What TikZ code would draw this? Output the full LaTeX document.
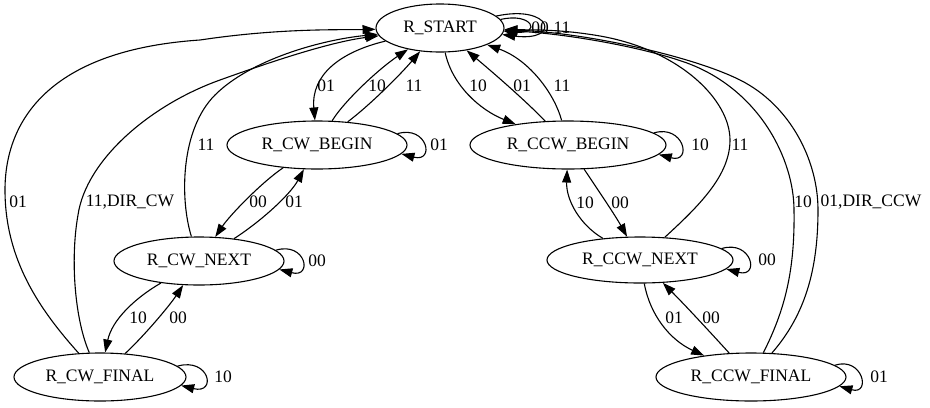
\documentclass[tikz,border=0pt]{standalone}
\usepackage{fontspec}
\setmainfont{Liberation Serif}
\usetikzlibrary{shapes.geometric,arrows.meta}
\begin{document}
\begin{tikzpicture}[x=1bp,y=-1bp,
  state/.style={draw, ellipse, line width=1.1bp, inner sep=0pt, minimum height=48bp, font=\fontsize{17.5bp}{20bp}\selectfont},
  edge/.style={draw, line width=1.1bp, -{Triangle[length=13bp,width=9bp]}},
  lbl/.style={inner sep=0pt, font=\fontsize{17.5bp}{20bp}\selectfont}]
\useasboundingbox (0,0) rectangle (930,407);

% states
\node[state, minimum width=128bp] (S) at (440,28) {R\_START};
\node[state, minimum width=180bp] (CWB) at (317,145) {R\_CW\_BEGIN};
\node[state, minimum width=196bp] (CCWB) at (568,145) {R\_CCW\_BEGIN};
\node[state, minimum width=170bp] (CWN) at (199,261) {R\_CW\_NEXT};
\node[state, minimum width=186bp, minimum height=46bp] (CCWN) at (640,260) {R\_CCW\_NEXT};
\node[state, minimum width=172bp] (CWF) at (100,377) {R\_CW\_FINAL};
\node[state, minimum width=190bp] (CCWF) at (751,377) {R\_CCW\_FINAL};

% R_START <-> R_CW_BEGIN
\draw[edge] (S) .. controls (340,52) and (311,75) .. (CWB);
\node[lbl] (l1) at (326,86) {01};
\draw[edge] (CWB) .. controls (345,100) and (380,68) .. (S);
\node[lbl] (l2) at (377,86) {10};
\draw[edge] (CWB) .. controls (370,105) and (400,75) .. (S);
\node[lbl] (l3) at (414,86) {11};

% R_START <-> R_CCW_BEGIN
\draw[edge] (S) .. controls (452,85) and (480,110) .. (CCWB);
\node[lbl] (l4) at (478,86) {10};
\draw[edge] (CCWB) .. controls (525,100) and (490,70) .. (S);
\node[lbl] (l5) at (522,86) {01};
\draw[edge] (CCWB) .. controls (555,95) and (530,60) .. (S);
\node[lbl] (l6) at (562,86) {11};

% R_START self loops
\draw[edge] (S.8) .. controls (532,12) and (542,34) .. (S.-3);
\node[lbl] (l7) at (540,28) {00};
\draw[edge] (S.12) .. controls (552,4) and (562,42) .. (S.-6);
\node[lbl] (l8) at (562,28) {11};

% self loops
\draw[edge] (CWB.8) .. controls +(30,-9) and +(34,9) .. (CWB.-6);
\node[lbl] (l9) at (439,145) {01};
\draw[edge] (CCWB.8) .. controls +(30,-9) and +(34,9) .. (CCWB.-6);
\node[lbl] (l10) at (700,145) {10};
\draw[edge] (CWN.8) .. controls +(30,-9) and +(34,9) .. (CWN.-6);
\node[lbl] (l11) at (317,261) {00};
\draw[edge] (CCWN.8) .. controls +(30,-9) and +(34,9) .. (CCWN.-6);
\node[lbl] (l12) at (767,260) {00};
\draw[edge] (CWF.8) .. controls +(32,-9) and +(36,9) .. (CWF.-6);
\node[lbl] (l13) at (223,377) {10};
\draw[edge] (CCWF.8) .. controls +(28,-9) and +(32,9) .. (CCWF.-6);
\node[lbl] (l14) at (879,377) {01};

% CW chain
\draw[edge] (CWB) .. controls (262,182) and (230,215) .. (CWN);
\node[lbl] (l15) at (258,202) {00};
\draw[edge] (CWN) .. controls (260,222) and (290,195) .. (CWB);
\node[lbl] (l16) at (294,202) {01};
\draw[edge] (CWN) .. controls (135,298) and (112,320) .. (CWF);
\node[lbl] (l17) at (138,318) {10};
\draw[edge] (CWF) .. controls (145,335) and (170,305) .. (CWN);
\node[lbl] (l18) at (178,318) {00};

% CCW chain
\draw[edge] (CCWB) .. controls (598,190) and (615,215) .. (CCWN);
\node[lbl] (l19) at (620,203) {00};
\draw[edge] (CCWN) .. controls (580,225) and (566,200) .. (CCWB);
\node[lbl] (l20) at (585,203) {10};
\draw[edge] (CCWN) .. controls (650,315) and (670,340) .. (CCWF);
\node[lbl] (l21) at (674,318) {01};
\draw[edge] (CCWF) .. controls (710,332) and (685,305) .. (CCWN);
\node[lbl] (l22) at (711,318) {00};

% long edges, left side
\draw[edge] (CWN) .. controls (180,200) and (180,130) .. (215,95)
  .. controls (250,60) and (320,40) .. (S);
\node[lbl] (l23) at (206,145) {11};
\draw[edge] (CWF) .. controls (40,310) and (5,260) .. (5,190)
  .. controls (5,120) and (50,50) .. (200,40)
  .. controls (280,28) and (340,30) .. (S);
\node[lbl] (l24) at (18,202) {01};
\draw[edge] (CWF) .. controls (75,320) and (70,260) .. (78,215)
  .. controls (86,160) and (150,105) .. (220,80)
  .. controls (270,62) and (330,42) .. (S);
\node[lbl] (l25) at (130,202) {11,DIR\_CW};

% long edges, right side
\draw[edge] (CCWN) .. controls (700,205) and (730,175) .. (730,140)
  .. controls (730,100) and (680,50) .. (600,36)
  .. controls (560,29) and (530,30) .. (S);
\node[lbl] (l26) at (740,145) {11};
\draw[edge] (CCWF) .. controls (785,310) and (795,270) .. (794,210)
  .. controls (794,160) and (760,90) .. (687,63)
  .. controls (640,46) and (560,33) .. (S);
\node[lbl] (l27) at (803,202) {10};
\draw[edge] (CCWF) .. controls (805,315) and (818,270) .. (818,210)
  .. controls (818,160) and (790,105) .. (740,80)
  .. controls (690,55) and (580,32) .. (S);
\node[lbl] (l28) at (871,202) {01,DIR\_CCW};
\end{tikzpicture}
\end{document}
